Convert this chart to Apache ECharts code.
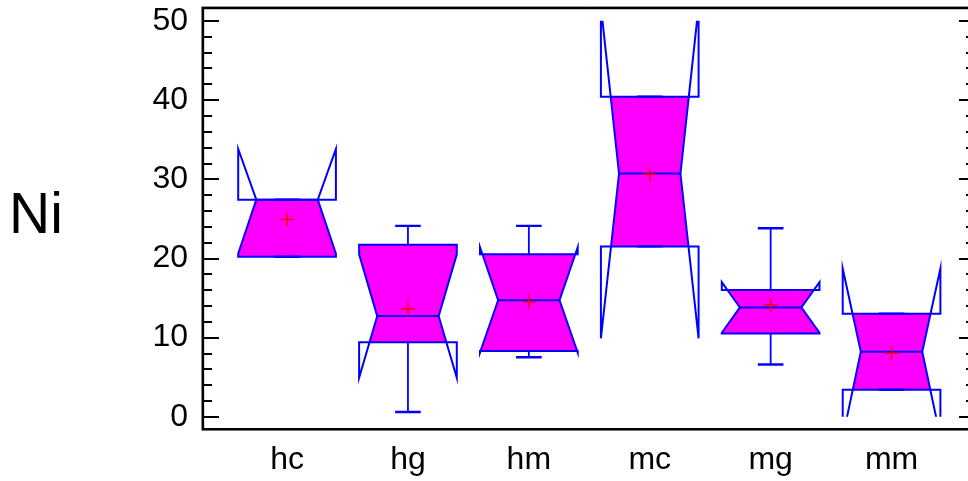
<!DOCTYPE html>
<html>
<head>
<meta charset="utf-8">
<script src="https://cdn.jsdelivr.net/npm/echarts@6/dist/echarts.min.js"></script>
<style>
  html, body { margin: 0; padding: 0; background: #fff; }
  #chart { width: 968px; height: 481px; }
</style>
</head>
<body>
<div id="chart"></div>
<script>
// Ni concentration by group: notched box-and-whisker summary
const categories    = ['hc', 'hg', 'hm', 'mc', 'mg', 'mm'];
const lowerQuartile = [20.2, 9.4, 8.3, 21.5, 10.5, 3.4];
const medians       = [27.4, 12.7, 14.7, 30.7, 13.8, 8.2];
const upperQuartile = [27.4, 21.7, 20.5, 40.4, 16.0, 13.0];
const notchLow      = [20.6, 4.9, 8.1, 9.9, 10.6, -2.6];
const notchHigh     = [33.8, 20.5, 21.4, 51.8, 17.0, 18.7];
const whiskerLow    = [20.2, 0.6, 7.5, 21.5, 6.6, 3.4];
const whiskerHigh   = [27.4, 24.1, 24.1, 40.4, 23.8, 13.0];
const means         = [24.9, 13.6, 14.5, 30.6, 14.1, 8.0];
const yTicks        = [0, 10, 20, 30, 40, 50];

const boxData = categories.map((c, i) => [
  i, lowerQuartile[i], medians[i], upperQuartile[i],
  notchLow[i], notchHigh[i], whiskerLow[i], whiskerHigh[i], means[i]
]);

const BLUE = '#0000ff', FILL = '#ff00ff', RED = '#ff0000';

function renderBox(params, api) {
  const i = api.value(0);
  const q1 = api.value(1), md = api.value(2), q3 = api.value(3);
  const nl = api.value(4), nh = api.value(5);
  const wl = api.value(6), wh = api.value(7), mean = api.value(8);
  const cx = api.coord([i, md])[0];
  const band = api.size([1, 0])[0];
  const half = band * 0.404, inner = band * 0.254, cap = band * 0.106;
  const Y = v => api.coord([i, v])[1];

  // half-width of the notched outline at a given value
  const halfAt = v => {
    let t = v >= md ? (v - md) / (nh - md) : (md - v) / (md - nl);
    if (!isFinite(t)) t = 1;
    t = Math.max(0, Math.min(1, t));
    return inner + (half - inner) * t;
  };

  // filled part: the notched outline restricted to the quartile band
  const levels = [q3, nh, md, nl, q1]
    .filter(v => v <= q3 && v >= q1)
    .sort((a, b) => b - a);
  const fillPts = levels.map(v => [cx - halfAt(v), Y(v)])
    .concat(levels.slice().reverse().map(v => [cx + halfAt(v), Y(v)]));

  const outline = [
    [cx - half, Y(q3)], [cx - half, Y(nh)], [cx - inner, Y(md)],
    [cx - half, Y(nl)], [cx - half, Y(q1)], [cx + half, Y(q1)],
    [cx + half, Y(nl)], [cx + inner, Y(md)], [cx + half, Y(nh)],
    [cx + half, Y(q3)]
  ];

  const line = (x1, y1, x2, y2, color, w) => ({
    type: 'line',
    shape: { x1, y1, x2, y2 },
    style: { stroke: color, lineWidth: w }
  });

  const children = [
    { type: 'polygon', shape: { points: fillPts }, style: { fill: FILL, stroke: null } },
    { type: 'polygon', shape: { points: outline }, style: { fill: null, stroke: BLUE, lineWidth: 2, lineJoin: 'miter' } },
    line(cx - inner, Y(md), cx + inner, Y(md), BLUE, 2),
    // whiskers and caps
    line(cx, Y(q3), cx, Y(wh), BLUE, 1.8),
    line(cx - cap, Y(wh), cx + cap, Y(wh), BLUE, 2.4),
    line(cx, Y(q1), cx, Y(wl), BLUE, 1.8),
    line(cx - cap, Y(wl), cx + cap, Y(wl), BLUE, 2.4),
    // mean marker
    line(cx - 7, Y(mean), cx + 7, Y(mean), RED, 1.5),
    line(cx, Y(mean) - 7, cx, Y(mean) + 7, RED, 1.5)
  ];
  return { type: 'group', children };
}

const chart = echarts.init(document.getElementById('chart'), null, { renderer: 'canvas' });

const tickFont = { fontFamily: 'Liberation Sans, Arial, sans-serif', fontSize: 32, color: '#000' };

chart.setOption({
  animation: false,
  backgroundColor: '#fff',
  grid: { left: 226.6, right: 16, top: 20.7, bottom: 64.3 },
  xAxis: {
    type: 'category',
    data: categories,
    boundaryGap: true,
    axisLine: { show: false },
    axisTick: { show: false },
    splitLine: { show: false },
    axisLabel: {
      fontFamily: 'Liberation Sans, Arial, sans-serif',
      fontSize: 32, color: '#000', margin: 27
    }
  },
  yAxis: [
    {
      type: 'value', position: 'left', offset: 23.6,
      min: yTicks[0], max: yTicks[yTicks.length - 1], interval: 10,
      axisLine: { show: false },
      axisTick: { show: true, inside: true, length: 16, lineStyle: { color: '#000', width: 2 } },
      minorTick: { show: true, splitNumber: 5, length: 9, lineStyle: { color: '#000', width: 2 } },
      splitLine: { show: false },
      axisLabel: Object.assign({ margin: 15 }, tickFont)
    },
    {
      type: 'value', position: 'right', offset: 16,
      min: yTicks[0], max: yTicks[yTicks.length - 1], interval: 10,
      axisLine: { show: false },
      axisTick: { show: true, inside: true, length: 9, lineStyle: { color: '#000', width: 2 } },
      minorTick: { show: true, splitNumber: 5, length: 2, lineStyle: { color: '#000', width: 2 } },
      splitLine: { show: false },
      axisLabel: { show: false }
    }
  ],
  graphic: [
    {
      type: 'rect', silent: true, z: 1,
      shape: { x: 201.5, y: 6.5, width: 770, height: 424 },
      style: { fill: null, stroke: '#9a9a9a', lineWidth: 1 }
    },
    {
      type: 'rect', silent: true, z: 2,
      shape: { x: 203, y: 8.2, width: 767, height: 421 },
      style: { fill: null, stroke: '#000', lineWidth: 2.3 }
    },
    {
      type: 'text', silent: true,
      x: 9, y: 217,
      style: {
        text: 'Ni',
        fontFamily: 'Liberation Sans, Arial, sans-serif',
        fontSize: 57, fill: '#000',
        verticalAlign: 'middle', align: 'left'
      }
    }
  ],
  series: [{
    type: 'custom',
    renderItem: renderBox,
    clip: true,
    encode: { x: 0, y: [1, 2, 3] },
    data: boxData
  }]
});
</script>
</body>
</html>
